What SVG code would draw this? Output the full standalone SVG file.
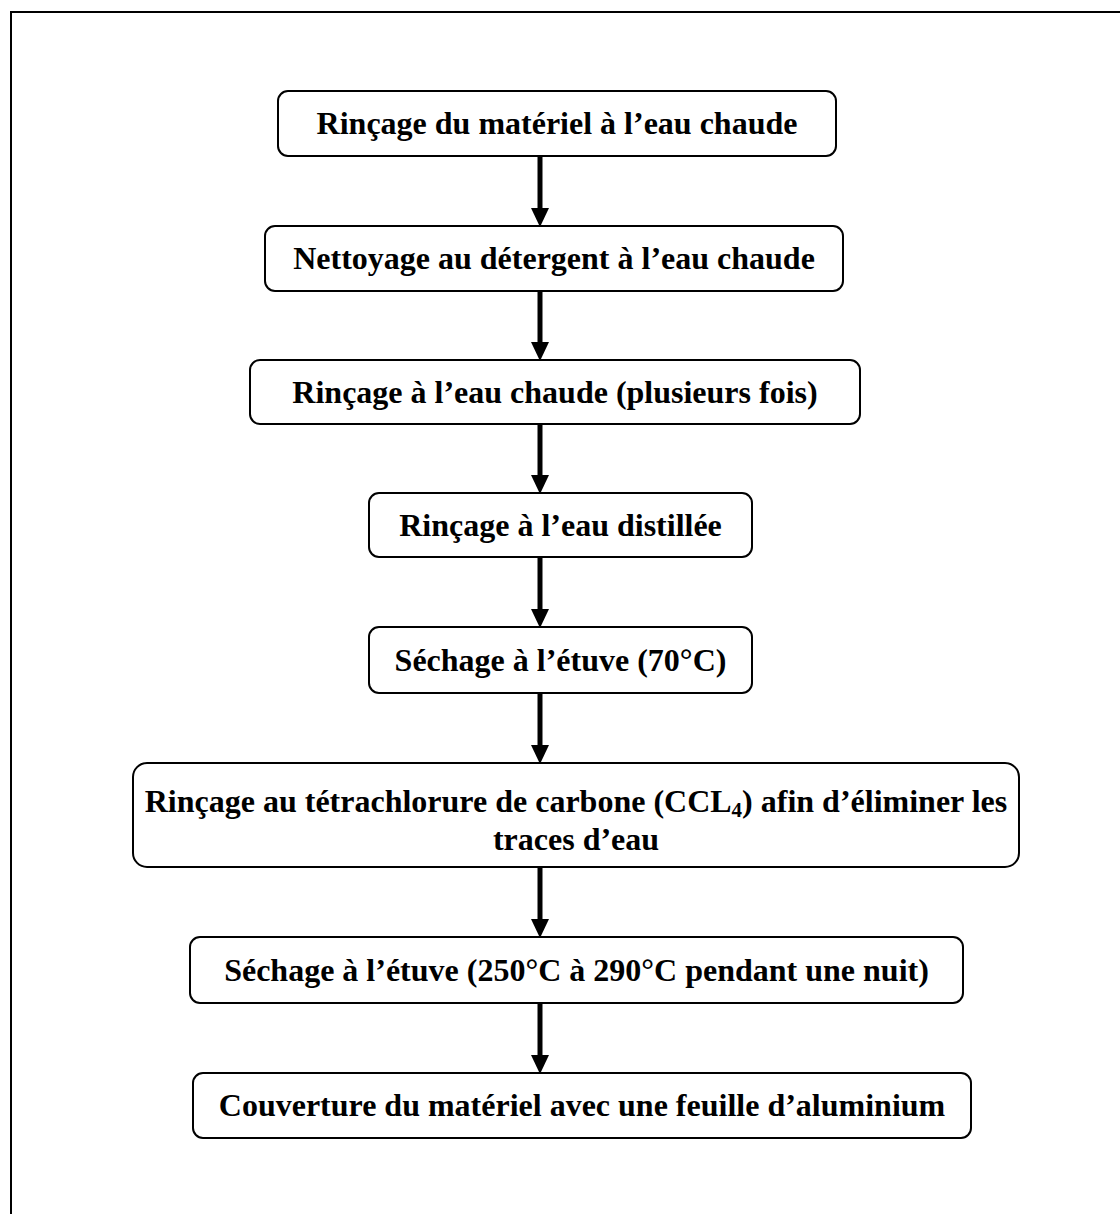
<svg xmlns="http://www.w3.org/2000/svg" width="1120" height="1214" viewBox="0 0 1120 1214">
<style>
.box{fill:#fff;stroke:#000;stroke-width:2}
.t{font-family:"Liberation Serif","Times New Roman",serif;font-weight:bold;font-size:32px;fill:#000;text-anchor:middle}
.c{stroke:#000;stroke-width:5;fill:none}
</style>
<defs>
<marker id="ah" markerUnits="userSpaceOnUse" markerWidth="19" markerHeight="18" viewBox="0 0 19 18" refX="0" refY="9" orient="auto">
<path d="M0,0 L19,9 L0,18 z" fill="#000"/>
</marker>
</defs>
<rect x="0" y="0" width="1120" height="1214" fill="#fff"/>
<rect x="11" y="12" width="1200" height="1300" fill="none" stroke="#000" stroke-width="2"/>
<g id="connectors">
<line class="c" x1="540" y1="157" x2="540" y2="208" marker-end="url(#ah)"/>
<line class="c" x1="540" y1="292" x2="540" y2="342" marker-end="url(#ah)"/>
<line class="c" x1="540" y1="425" x2="540" y2="475" marker-end="url(#ah)"/>
<line class="c" x1="540" y1="558" x2="540" y2="609" marker-end="url(#ah)"/>
<line class="c" x1="540" y1="694" x2="540" y2="745" marker-end="url(#ah)"/>
<line class="c" x1="540" y1="868" x2="540" y2="919" marker-end="url(#ah)"/>
<line class="c" x1="540" y1="1004" x2="540" y2="1055" marker-end="url(#ah)"/>
</g>
<g id="n1"><rect class="box" x="278" y="91" width="558" height="65" rx="10"/><text class="t" x="557" y="134">Rinçage du matériel à l’eau chaude</text></g>
<g id="n2"><rect class="box" x="265" y="226" width="578" height="65" rx="10"/><text class="t" x="554" y="269">Nettoyage au détergent à l’eau chaude</text></g>
<g id="n3"><rect class="box" x="250" y="360" width="610" height="64" rx="10"/><text class="t" x="555" y="403">Rinçage à l’eau chaude (plusieurs fois)</text></g>
<g id="n4"><rect class="box" x="369" y="493" width="383" height="64" rx="10"/><text class="t" x="560.5" y="536">Rinçage à l’eau distillée</text></g>
<g id="n5"><rect class="box" x="369" y="627" width="383" height="66" rx="10"/><text class="t" x="560.5" y="671">Séchage à l’étuve (70°C)</text></g>
<g id="n6"><rect class="box" x="133" y="763" width="886" height="104" rx="14"/><text class="t" x="576" y="812">Rinçage au tétrachlorure de carbone (CCL<tspan font-size="21" dy="5">4</tspan><tspan dy="-5">) afin d’éliminer les</tspan></text><text class="t" x="576" y="850">traces d’eau</text></g>
<g id="n7"><rect class="box" x="190" y="937" width="773" height="66" rx="10"/><text class="t" x="576.5" y="981">Séchage à l’étuve (250°C à 290°C pendant une nuit)</text></g>
<g id="n8"><rect class="box" x="193" y="1073" width="778" height="65" rx="10"/><text class="t" x="582" y="1116">Couverture du matériel avec une feuille d’aluminium</text></g>
</svg>
